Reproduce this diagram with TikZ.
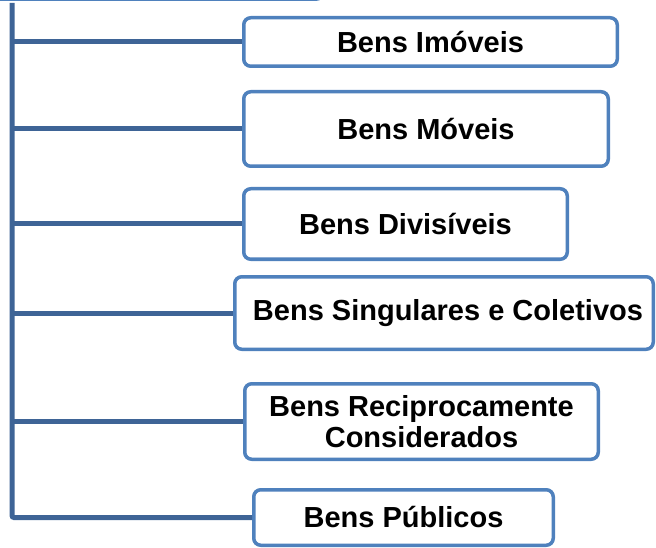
\documentclass[tikz,border=0pt]{standalone}
\usepackage{fontspec}
\setmainfont{Liberation Sans}
\definecolor{boxblue}{RGB}{79,129,189}
\definecolor{connblue}{RGB}{62,100,150}
\begin{document}
\begin{tikzpicture}[x=1pt,y=-1pt,
  box/.style={draw=boxblue,line width=3.5pt,rounded corners=7pt,fill=white,
    rectangle,align=center,inner sep=2pt,
    font=\fontsize{29}{31}\selectfont\bfseries},
  conn/.style={draw=connblue,line width=5pt}]
\useasboundingbox (0,0) rectangle (656,548);
% cut-off box at the top
\draw[draw=boxblue,line width=3.5pt,rounded corners=7pt] (-30,-60) rectangle (323,-0.8);
\coordinate (top) at (12,3);
\node[box,minimum width=373.5pt,minimum height=48.5pt] (b1) at (430.5,42) {Bens Imóveis};
\node[box,minimum width=364.5pt,minimum height=74.5pt] (b2) at (426,129) {Bens Móveis};
\node[box,minimum width=323.5pt,minimum height=70.5pt] (b3) at (405.5,224) {Bens Divisíveis};
\node[box,minimum width=418.5pt,minimum height=72.5pt] (b4) at (444,313) {\hspace*{8pt}Bens Singulares e Coletivos};
\node[box,minimum width=353.5pt,minimum height=75.5pt] (b5) at (421.5,421.5) {Bens Reciprocamente\\Considerados};
\node[box,minimum width=299.5pt,minimum height=55.5pt] (b6) at (403.5,517.5) {Bens Públicos};
\draw[conn,rounded corners=2pt] (top) |- (b6.west);
\foreach \b in {b1,b2,b3,b4,b5}
  \draw[conn] (top |- \b.west) -- (\b.west);
\end{tikzpicture}
\end{document}
